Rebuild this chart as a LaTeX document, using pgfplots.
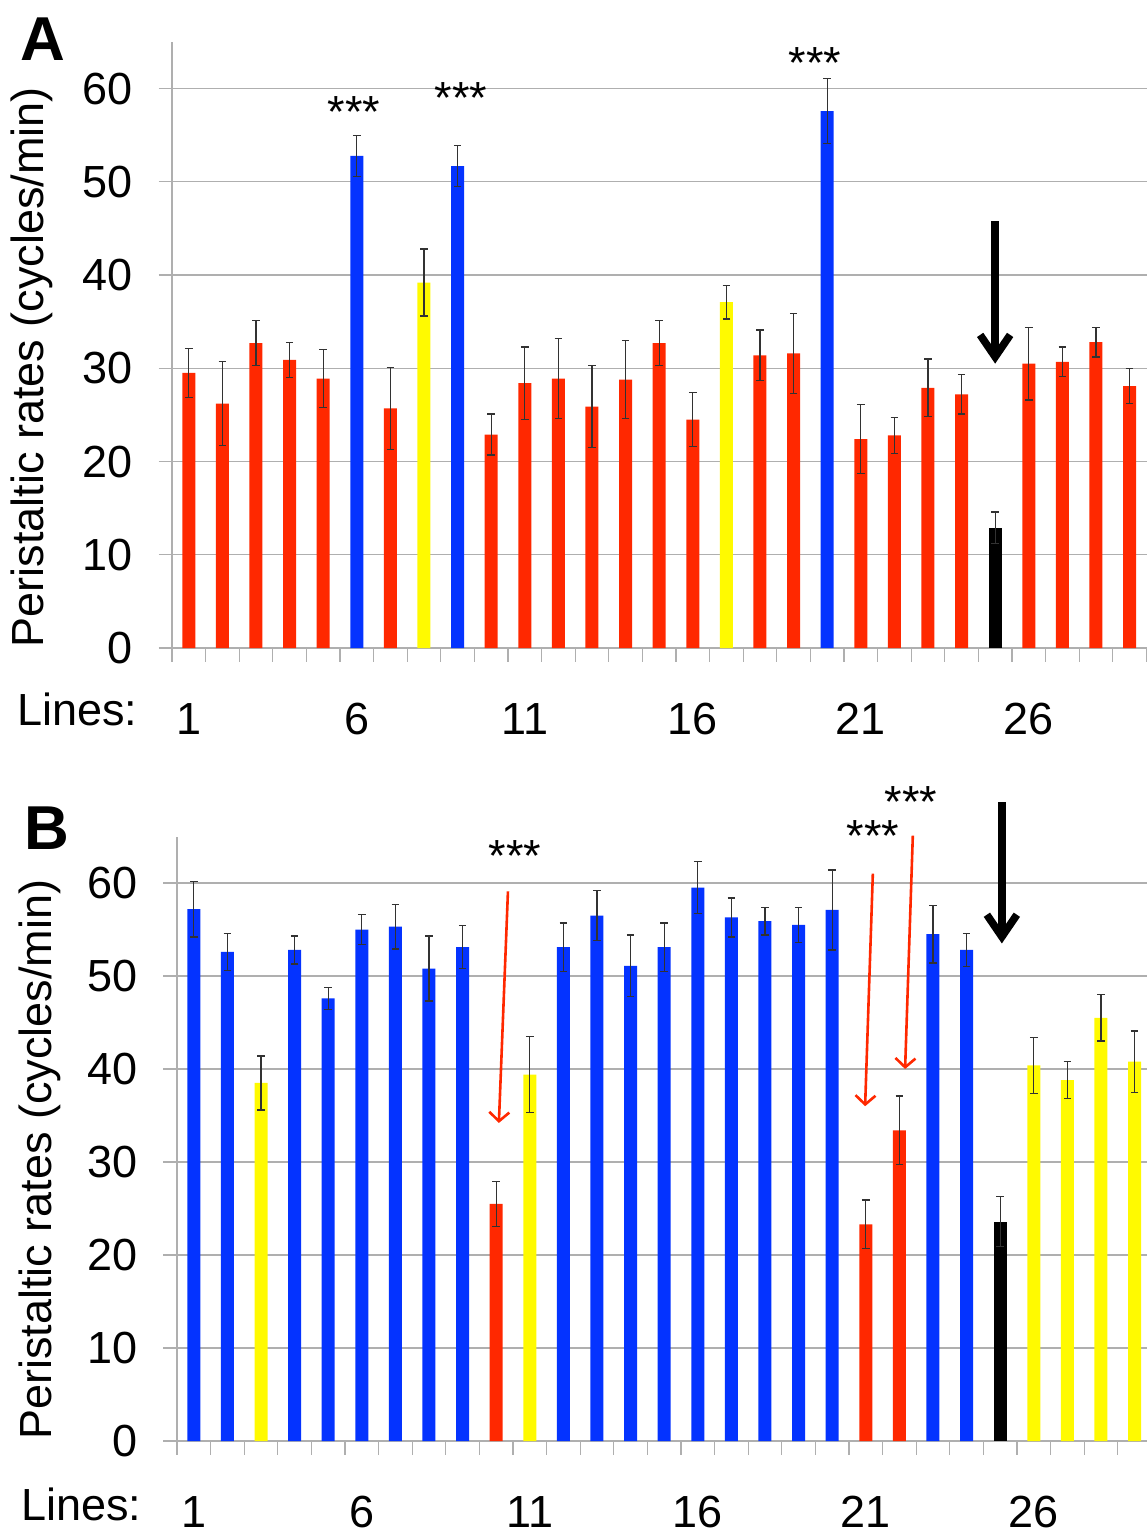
\documentclass[border=0pt]{standalone}
\usepackage{pgfplots}
\pgfplotsset{compat=1.18}
\usepackage{fontspec}
\setmainfont{Liberation Sans}
\usetikzlibrary{arrows.meta}
\definecolor{barred}{RGB}{255,40,0}
\definecolor{barblue}{RGB}{4,51,255}
\definecolor{baryellow}{RGB}{255,250,0}
\definecolor{gridgray}{RGB}{175,175,175}
\definecolor{errgray}{RGB}{50,50,50}
\newcommand{\bigfnt}{\fontsize{22.5}{27}\selectfont}
\pgfplotsset{
  panel/.style={
    scale only axis,
    clip=false,
    axis x line=bottom, axis y line=left,
    axis line style={-, gridgray, line width=0.6pt},
    ymin=0, ymax=65, xmin=0.5,
    ytick={0,10,...,60},
    ymajorgrids, grid style={gridgray, line width=0.6pt},
    xtick={0.5,1.5,...,29.5}, xticklabels={},
    tick align=outside,
    major tick length=6.75pt,
    major tick style={gridgray, line width=0.6pt},
    /pgf/number format/assume math mode=true,
    yticklabel style={font=\bigfnt, xshift=-9.5pt},
  },
  mybar/.style={ybar, bar width=6.5pt, draw=none, fill=#1,
    error bars/.cd, y dir=both, y explicit,
    error bar style={errgray, line width=0.65pt},
    error mark options={rotate=90, errgray, line width=0.65pt, mark size=1.9pt}},
}
\tikzset{
  stars/.style={font=\bigfnt, anchor=center},
  redarrow/.style={barred, line width=1.3pt, -{Straight Barb[length=4.5pt,width=10pt]}},
  blackarrow/.style={black, line width=3.8pt, -{Straight Barb[length=11pt,width=15pt]}},
}
\begin{document}
\begin{tikzpicture}
\useasboundingbox (0,0) rectangle (573.5pt,-767.5pt);
% ---------------- Panel A ----------------
\node[font=\fontsize{31}{34}\selectfont\bfseries] at (21.5pt,-19.5pt) {A};
\node[font=\bigfnt, rotate=90] at (16pt,-183.5pt) {Peristaltic rates (cycles/min)};
\node[font=\bigfnt, anchor=base west] at (5pt,-362.5pt) {Lines:};
\begin{axis}[panel, at={(86pt,-324pt)}, anchor=south west,
  width=487.5pt, height=303pt, xmax=29.52]
\addplot[mybar=barred] coordinates {
 (1,29.5) +- (0,2.6) (2,26.2) +- (0,4.5) (3,32.7) +- (0,2.4) (4,30.9) +- (0,1.9)
 (5,28.9) +- (0,3.1) (7,25.7) +- (0,4.4) (10,22.9) +- (0,2.2) (11,28.4) +- (0,3.9)
 (12,28.9) +- (0,4.3) (13,25.9) +- (0,4.4) (14,28.8) +- (0,4.2) (15,32.7) +- (0,2.4)
 (16,24.5) +- (0,2.9) (18,31.4) +- (0,2.7) (19,31.6) +- (0,4.3) (21,22.4) +- (0,3.7)
 (22,22.8) +- (0,1.9) (23,27.9) +- (0,3.1) (24,27.2) +- (0,2.1) (26,30.5) +- (0,3.9)
 (27,30.7) +- (0,1.6) (28,32.8) +- (0,1.6) (29,28.1) +- (0,1.9)};
\addplot[mybar=barblue] coordinates {
 (6,52.8) +- (0,2.2) (9,51.7) +- (0,2.2) (20,57.6) +- (0,3.5)};
\addplot[mybar=baryellow] coordinates {
 (8,39.2) +- (0,3.6) (17,37.1) +- (0,1.8)};
\addplot[mybar=black] coordinates {(25,12.9) +- (0,1.7)};
\foreach \n in {1,6,11,16,21,26}{
  \edef\tmp{\noexpand\node[font=\noexpand\bigfnt, anchor=base] at (axis cs:\n,-9.28) {\n};}\tmp
}
\node[stars] at (axis cs:5.92,57.5) {***};
\node[stars] at (axis cs:9.1,59.0) {***};
\node[stars] at (axis cs:19.64,62.8) {***};
\draw[blackarrow] (axis cs:25,45.8) -- (axis cs:25,30.5);
\end{axis}
% ---------------- Panel B ----------------
\node[font=\fontsize{31}{34}\selectfont\bfseries] at (23.5pt,-414pt) {B};
\node[font=\bigfnt, rotate=90] at (20pt,-579.75pt) {Peristaltic rates (cycles/min)};
\node[font=\bigfnt, anchor=base west] at (7pt,-760pt) {Lines:};
\begin{axis}[panel, at={(88.5pt,-720.5pt)}, anchor=south west,
  width=485pt, height=302.25pt, xmax=29.37]
\addplot[mybar=barblue] coordinates {
 (1,57.2) +- (0,3.0) (2,52.6) +- (0,2.0) (4,52.8) +- (0,1.5) (5,47.6) +- (0,1.2)
 (6,55.0) +- (0,1.6) (7,55.3) +- (0,2.4) (8,50.8) +- (0,3.5) (9,53.1) +- (0,2.3)
 (12,53.1) +- (0,2.6) (13,56.5) +- (0,2.7) (14,51.1) +- (0,3.3) (15,53.1) +- (0,2.6)
 (16,59.5) +- (0,2.8) (17,56.3) +- (0,2.1) (18,55.9) +- (0,1.5) (19,55.5) +- (0,1.9)
 (20,57.1) +- (0,4.3) (23,54.5) +- (0,3.1) (24,52.8) +- (0,1.8)};
\addplot[mybar=baryellow] coordinates {
 (3,38.5) +- (0,2.9) (11,39.4) +- (0,4.1) (26,40.4) +- (0,3.0) (27,38.8) +- (0,2.0)
 (28,45.5) +- (0,2.5) (29,40.8) +- (0,3.3)};
\addplot[mybar=barred] coordinates {
 (10,25.5) +- (0,2.4) (21,23.3) +- (0,2.6) (22,33.4) +- (0,3.7)};
\addplot[mybar=black] coordinates {(25,23.6) +- (0,2.7)};
\foreach \n in {1,6,11,16,21,26}{
  \edef\tmp{\noexpand\node[font=\noexpand\bigfnt, anchor=base] at (axis cs:\n,-9.25) {\n};}\tmp
}
\node[stars] at (axis cs:10.56,62.9) {***};
\node[stars] at (axis cs:21.21,65.0) {***};
\node[stars] at (axis cs:22.35,68.7) {***};
\draw[redarrow] (axis cs:10.35,59.1) -- (axis cs:10.08,34.2);
\draw[redarrow] (axis cs:21.21,61.0) -- (axis cs:20.98,36.0);
\draw[redarrow] (axis cs:22.4,65.1) -- (axis cs:22.17,40.0);
\draw[blackarrow] (axis cs:25.05,68.7) -- (axis cs:25.05,53.5);
\end{axis}
\end{tikzpicture}
\end{document}
